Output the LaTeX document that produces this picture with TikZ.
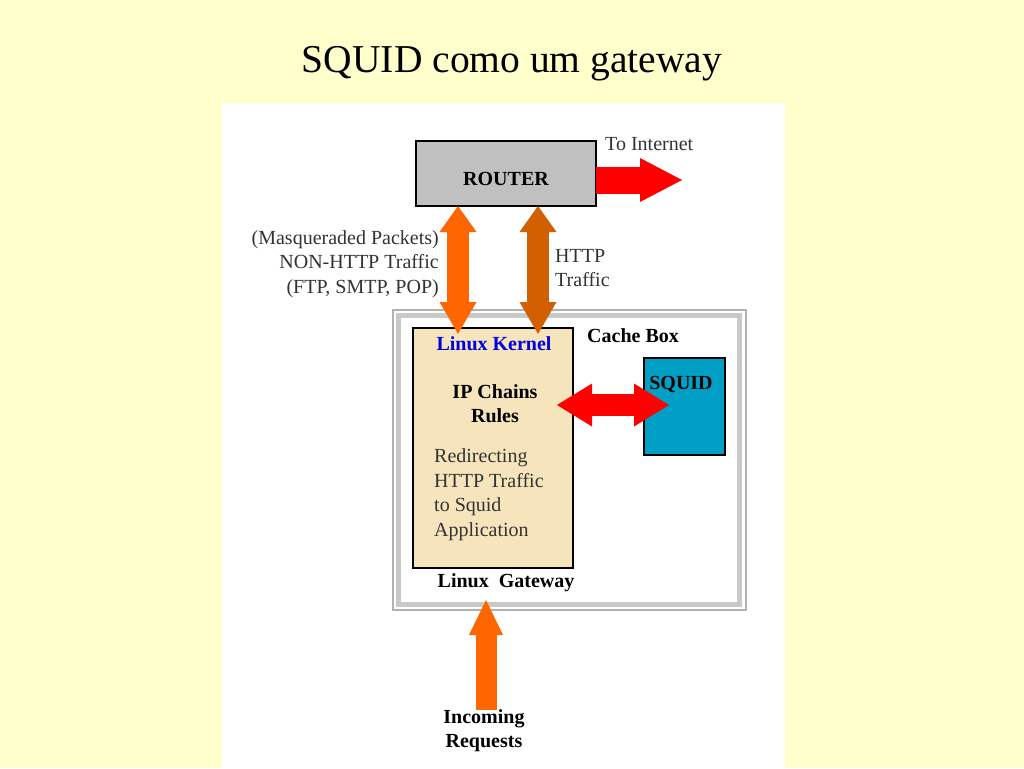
\documentclass[tikz,border=0pt]{standalone}
\usepackage{fontspec}
\setmainfont{Liberation Serif}
\usetikzlibrary{arrows.meta,calc}

\definecolor{slidebg}{RGB}{255,255,204}
\definecolor{routergray}{RGB}{192,192,192}
\definecolor{kernelfill}{RGB}{246,228,188}
\definecolor{squidblue}{RGB}{0,160,198}
\definecolor{nonhttporange}{RGB}{255,102,0}
\definecolor{httporange}{RGB}{210,95,0}
\definecolor{kernelblue}{RGB}{0,0,224}
\definecolor{labelgray}{RGB}{51,51,51}
\definecolor{cachegray}{RGB}{200,200,200}

\tikzstyle{box} = [draw, line width=2pt, rectangle, inner sep=0pt, outer sep=0pt]
\tikzstyle{lbl} = [font=\fontsize{20}{24.5}\selectfont, text=labelgray, inner sep=0pt]
\tikzstyle{boldlbl} = [font=\fontsize{20}{24}\selectfont\bfseries, inner sep=0pt]

\begin{document}
\begin{tikzpicture}[x=1pt,y=-1pt]
            %
            % Slide background, white panel and title
            \useasboundingbox (0,0) rectangle (1024,768);
            \fill[slidebg] (0,0) rectangle (1024,768);
            \fill[white] (222,103) rectangle (785,768);
            \node[font=\fontsize{39.5}{46}\selectfont, anchor=base] (title) at (512,72) {SQUID como um gateway};
            %
            % We start by placing the blocks
            \node [draw=cachegray, line width=5pt, inner sep=0pt, outer sep=0pt, minimum width=341pt, minimum height=289pt] (cachebox) at (569,460) {};
            \draw [gray!60, line width=1.2pt] ($(cachebox.north west)+(-5.5,-5.5)$) rectangle ($(cachebox.south east)+(6.5,5.5)$);
            \node [box, fill=routergray, minimum width=180pt, minimum height=65pt] (router) at (506,173.5) {};
            \node [box, fill=kernelfill, minimum width=160pt, minimum height=240pt] (kernel) at (493,448) {};
            \node [box, fill=squidblue, minimum width=81pt, minimum height=97pt] (squid) at (684.5,406.5) {};
            %
            % Where the fat arrows attach
            \coordinate (nonhttp) at (458,0);
            \coordinate (http) at (538,0);
            \coordinate (internet) at (682,180);
            \coordinate (redirect) at (0,405);
            \coordinate (gatewayin) at (486,600);
            %
            % Labels
            \node [boldlbl] (routerlabel) at (506,178.5) {ROUTER};
            \node [lbl, anchor=west] (tointernet) at (605,144) {To Internet};
            \node [lbl, anchor=east, align=right] (nonhttplabel) at (439,264) {(Masqueraded Packets)\\NON-HTTP Traffic\\(FTP, SMTP, POP)};
            \node [lbl, anchor=west, align=left] (httplabel) at (555,268) {HTTP\\Traffic};
            \node [boldlbl, anchor=west] (cachelabel) at (587,336) {Cache Box};
            \node [boldlbl, text=kernelblue] (kernellabel) at (494,344) {Linux Kernel};
            \node [boldlbl, align=center] (ipchains) at (495,404) {IP Chains\\Rules};
            \node [lbl, anchor=west, align=left] (redirlabel) at (434,494.5) {Redirecting\\HTTP Traffic\\to Squid\\Application};
            \node [boldlbl] (gatewaylabel) at (506,583) {Linux\ \ Gateway};
            \node [boldlbl] (squidlabel) at (681,384) {SQUID};
            \node [boldlbl, align=center] (requests) at (484,731) {Incoming\\Requests};
            %
            % Once the nodes are placed, connecting them is easy.
            \draw [red, line width=27pt, -{Triangle[width=44pt,length=42pt,line width=0pt]}] (router.east |- internet) -- (internet);
            \draw [nonhttporange, line width=22pt, {Triangle[width=37pt,length=26pt,line width=0pt]}-{Triangle[width=37pt,length=32pt,line width=0pt]}] (router.south -| nonhttp) -- ($(kernel.north -| nonhttp)+(0,6)$);
            \draw [httporange, line width=22pt, {Triangle[width=37pt,length=26pt,line width=0pt]}-{Triangle[width=37pt,length=32pt,line width=0pt]}] (router.south -| http) -- ($(kernel.north -| http)+(0,6)$);
            \draw [red, line width=22pt, {Triangle[width=43pt,length=35pt,line width=0pt]}-{Triangle[width=43pt,length=35pt,line width=0pt]}] ($(kernel.east |- redirect)+(-16,0)$) -- ($(squid.west |- redirect)+(25,0)$);
            \draw [nonhttporange, line width=21pt, -{Triangle[width=34pt,length=35pt,line width=0pt]}] (requests.north -| gatewayin) -- (gatewayin);
            %
        \end{tikzpicture}
\end{document}
